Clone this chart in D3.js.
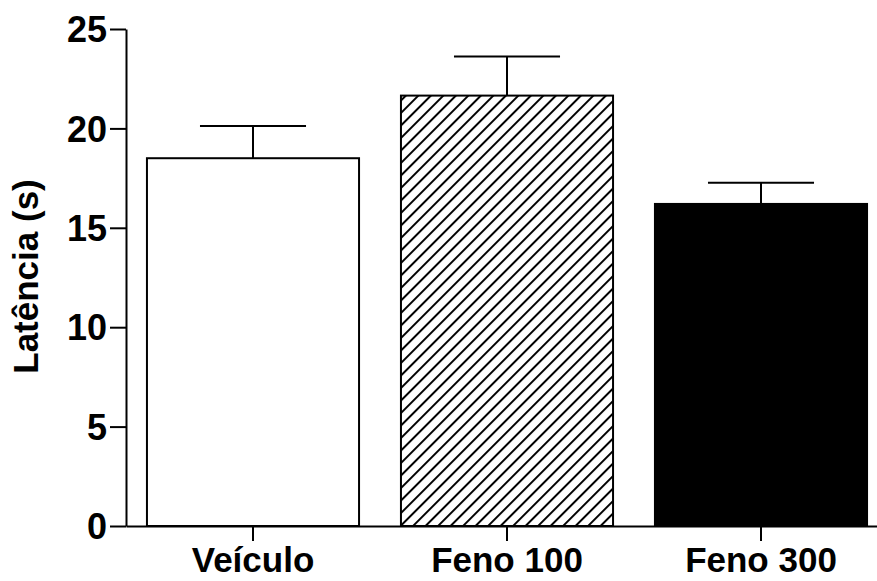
<!DOCTYPE html>
<html>
<head>
<meta charset="utf-8">
<script src="https://cdn.jsdelivr.net/npm/d3@7"></script>
<style>
  body { margin: 0; background: #fff; }
  text { font-family: Arial, 'Liberation Sans', sans-serif; font-weight: bold; fill: #000; }
</style>
</head>
<body>
<svg id="chart" width="877" height="581"></svg>
<script>
// data
const categories = ['Veículo', 'Feno 100', 'Feno 300']
const means = [18.5, 21.65, 16.2]
const errTops = [20.12, 23.62, 17.27]
const fills = ['white', 'hatch', 'black']
const yTicks = [0, 5, 10, 15, 20, 25]

const width = 877
const height = 581
const margin = { top: 29, right: -11, bottom: 55, left: 126 }

const svg = d3.select('#chart')

// diagonal hatch
svg.append('defs')
  .append('pattern')
  .attr('id', 'hatch')
  .attr('patternUnits', 'userSpaceOnUse')
  .attr('width', 8.84)
  .attr('height', 10)
  .attr('patternTransform', 'rotate(45)')
  .append('line')
  .attr('x1', 1).attr('y1', 0)
  .attr('x2', 1).attr('y2', 10)
  .attr('stroke', '#000')
  .attr('stroke-width', 2)

const x = d3.scaleBand()
  .domain(categories)
  .range([margin.left, width - margin.right])
  .paddingInner(0.165)
  .paddingOuter(0.0825)

const y = d3.scaleLinear()
  .domain([0, 25])
  .range([height - margin.bottom, margin.top])

const g = svg.append('g').attr('id', 'viz')

// error bars (upper only)
const err = g.append('g').attr('id', 'errors')
categories.forEach((c, i) => {
  const cx = x(c) + x.bandwidth() / 2
  const capHalf = x.bandwidth() / 4
  err.append('line')
    .attr('x1', cx).attr('x2', cx)
    .attr('y1', y(means[i])).attr('y2', y(errTops[i]))
    .attr('stroke', '#000').attr('stroke-width', 2)
  err.append('line')
    .attr('x1', cx - capHalf).attr('x2', cx + capHalf)
    .attr('y1', y(errTops[i])).attr('y2', y(errTops[i]))
    .attr('stroke', '#000').attr('stroke-width', 2)
})

// bars
g.append('g').attr('id', 'bars')
  .selectAll('rect')
  .data(categories)
  .join('rect')
  .attr('x', (d) => x(d))
  .attr('y', (d, i) => y(means[i]))
  .attr('width', x.bandwidth())
  .attr('height', (d, i) => y(0) - y(means[i]))
  .attr('fill', (d, i) => fills[i] === 'hatch' ? 'url(#hatch)' : fills[i])
  .attr('stroke', '#000')
  .attr('stroke-width', 2)

// y axis
const yAxis = g.append('g')
  .attr('transform', `translate(${margin.left},0)`)
  .call(d3.axisLeft(y).tickValues(yTicks).tickSize(16).tickPadding(3).tickSizeOuter(0))
yAxis.select('.domain').attr('stroke-width', 2)
yAxis.selectAll('.tick line').attr('stroke-width', 2)
yAxis.selectAll('.tick text')
  .attr('font-size', 36)
  .attr('font-family', 'Arial, Liberation Sans, sans-serif')
  .attr('font-weight', 'bold')
  .attr('dy', '0.35em')

// x axis
const xAxis = g.append('g')
  .attr('transform', `translate(0,${y(0)})`)
  .call(d3.axisBottom(x).tickSize(15).tickPadding(6).tickSizeOuter(0))
xAxis.select('.domain').attr('stroke-width', 2)
xAxis.selectAll('.tick line').attr('stroke-width', 2)
xAxis.selectAll('.tick text')
  .attr('font-size', 35)
  .attr('font-family', 'Arial, Liberation Sans, sans-serif')
  .attr('font-weight', 'bold')

// y axis title
svg.append('text')
  .attr('transform', `translate(38,${(178 + 375) / 2}) rotate(-90)`)
  .attr('text-anchor', 'middle')
  .attr('font-size', 35)
  .text('Latência (s)')
</script>
</body>
</html>
